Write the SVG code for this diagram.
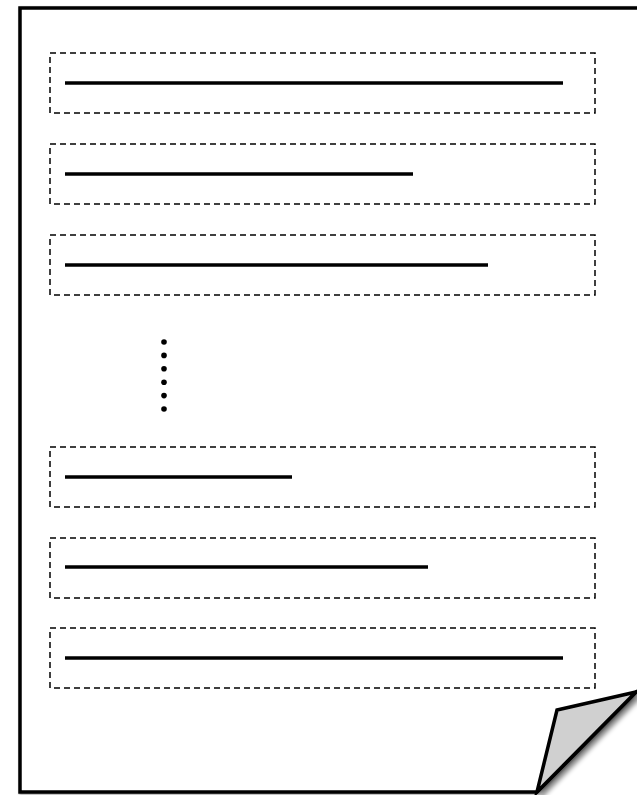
<svg xmlns="http://www.w3.org/2000/svg" width="637" height="795" viewBox="0 0 637 795">
<defs>
<style>
.box{fill:none;stroke:#000;stroke-width:1.5;stroke-dasharray:6,4}
.ln{stroke:#000;stroke-width:3.5;stroke-linecap:butt}
.dot{fill:#000}
</style>
<filter id="sh" x="-20%" y="-20%" width="150%" height="150%">
<feGaussianBlur in="SourceAlpha" stdDeviation="2.5"/>
<feOffset dx="4" dy="4" result="b"/>
<feComponentTransfer><feFuncA type="linear" slope="0.5"/></feComponentTransfer>
<feMerge><feMergeNode/><feMergeNode in="SourceGraphic"/></feMerge>
</filter>
<filter id="psh" x="-5%" y="-5%" width="110%" height="110%">
<feGaussianBlur in="SourceAlpha" stdDeviation="1"/>
<feOffset dx="1" dy="1"/>
<feComponentTransfer><feFuncA type="linear" slope="0.4"/></feComponentTransfer>
<feMerge><feMergeNode/><feMergeNode in="SourceGraphic"/></feMerge>
</filter>
</defs>
<rect width="637" height="795" fill="#fff"/>
<g id="page">
<path d="M20,8 H642 V688 L636,692 L537,792 H20 Z" fill="#fff" stroke="#000" stroke-width="3.5" stroke-linejoin="miter" filter="url(#psh)"/>
<path d="M537,792 L557,710 L636,692 Z" fill="#d0d0d0" stroke="#000" stroke-width="3.5" stroke-linejoin="miter" filter="url(#sh)"/>
</g>
<g id="row1"><rect class="box" x="50" y="53" width="545" height="60"/><line class="ln" x1="65" y1="83" x2="563" y2="83"/></g>
<g id="row2"><rect class="box" x="50" y="144" width="545" height="60"/><line class="ln" x1="65" y1="174" x2="413" y2="174"/></g>
<g id="row3"><rect class="box" x="50" y="235" width="545" height="60"/><line class="ln" x1="65" y1="265" x2="488" y2="265"/></g>
<g id="ellipsis">
<circle class="dot" cx="164" cy="342" r="2.8"/>
<circle class="dot" cx="164" cy="355.4" r="2.8"/>
<circle class="dot" cx="164" cy="368.8" r="2.8"/>
<circle class="dot" cx="164" cy="382.2" r="2.8"/>
<circle class="dot" cx="164" cy="395.6" r="2.8"/>
<circle class="dot" cx="164" cy="409" r="2.8"/>
</g>
<g id="row4"><rect class="box" x="50" y="447" width="545" height="60"/><line class="ln" x1="65" y1="477" x2="292" y2="477"/></g>
<g id="row5"><rect class="box" x="50" y="538" width="545" height="60"/><line class="ln" x1="65" y1="567" x2="428" y2="567"/></g>
<g id="row6"><rect class="box" x="50" y="628" width="545" height="60"/><line class="ln" x1="65" y1="658" x2="563" y2="658"/></g>
<g id="connectors"/>
</svg>
